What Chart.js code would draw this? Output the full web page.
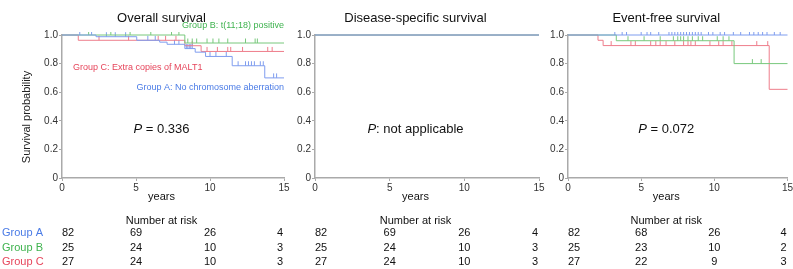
<!DOCTYPE html>
<html>
<head>
<meta charset="utf-8">
<script src="https://cdn.jsdelivr.net/npm/chart.js@4.4.1/dist/chart.umd.min.js"></script>
<style>
  html, body { margin: 0; padding: 0; background: #fff; }
  #wrap { position: relative; width: 793px; height: 269px; overflow: hidden; }
  canvas { position: absolute; top: 0; }
</style>
</head>
<body>
<div id="wrap">
  <canvas id="graficoOS" width="293" height="269" style="left:0px"></canvas>
  <canvas id="graficoDSS" width="253" height="269" style="left:293px"></canvas>
  <canvas id="graficoEFS" width="247" height="269" style="left:546px"></canvas>
</div>
<script>
// colunas da tabela "Number at risk" (anos)
const anosRisco = [0, 5, 10, 15];
const grupos = ['Group A', 'Group B', 'Group C'];
const corTexto = ['#4a7be6', '#3fb34f', '#e6455b'];
const corLinha = ['#7f9def', '#78c87c', '#ee7d8b'];

// Overall survival: tempo do evento / sobrevida depois do evento / censuras
const osTempoA = [2.3, 5.05, 6.6, 7.1, 8.3, 9.0, 9.7, 11.5, 13.7];
const osSobrevA = [0.988, 0.963, 0.95, 0.935, 0.905, 0.88, 0.85, 0.785, 0.70];
const osCensuraA = [1.2, 2.0, 3.0, 3.6, 4.3, 5.8, 6.3, 7.6, 7.9, 8.4, 8.5, 8.6, 8.7, 8.8, 10.0, 10.4, 11.1, 11.9, 12.4, 12.6, 12.8, 13.0, 13.4, 13.6, 14.3, 14.5];
const osTempoB = [8.3];
const osSobrevB = [0.944];
const osCensuraB = [1.8, 3.3, 4.6, 6.0, 7.4, 7.9, 8.5, 8.8, 9.1, 9.8, 10.2, 10.6, 11.2, 12.4, 13.05, 13.2];
const osTempoC = [1.1, 8.3, 9.4];
const osSobrevC = [0.963, 0.925, 0.885];
const osCensuraC = [2.5, 4.5, 6.5, 7.0, 7.7, 8.8, 9.8, 10.5, 11.2, 11.4, 12.2, 13.9, 14.2];
const riscoOS = [[82, 69, 26, 4], [25, 24, 10, 3], [27, 24, 10, 3]];

// Disease-specific survival: nenhum evento
const dssTempoA = [], dssSobrevA = [], dssCensuraA = [];
const dssTempoB = [], dssSobrevB = [], dssCensuraB = [];
const dssTempoC = [], dssSobrevC = [], dssCensuraC = [];
const riscoDSS = [[82, 69, 26, 4], [25, 24, 10, 3], [27, 24, 10, 3]];

// Event-free survival
const efsTempoA = [];
const efsSobrevA = [];
const efsCensuraA = [3.2, 3.7, 4.0, 5.0, 5.4, 5.65, 6.2, 6.9, 7.1, 7.3, 7.5, 7.7, 7.9, 8.1, 8.3, 8.5, 8.7, 8.9, 9.1, 9.6, 9.9, 10.4, 10.7, 11.3, 11.8, 12.4, 12.7, 13.0, 13.3, 13.6, 14.1, 14.5];
const efsTempoB = [3.3, 11.35];
const efsSobrevB = [0.96, 0.80];
const efsCensuraB = [4.1, 5.2, 6.3, 7.2, 7.5, 7.7, 7.9, 8.2, 8.5, 8.9, 9.2, 10.2, 10.6, 11.0, 12.6, 13.2];
const efsTempoC = [2.05, 2.4, 13.75];
const efsSobrevC = [0.963, 0.926, 0.62];
const efsCensuraC = [2.95, 4.3, 4.6, 5.65, 6.0, 6.3, 6.7, 7.3, 7.9, 8.2, 8.4, 8.7, 9.7, 10.3, 10.6, 11.2, 12.9, 13.65];
const riscoEFS = [[82, 68, 26, 4], [25, 23, 10, 2], [27, 22, 9, 3]];

const FONTE = '"Liberation Sans", Arial, sans-serif';
Chart.defaults.font.family = FONTE;
Chart.defaults.animation = false;
Chart.defaults.events = [];

function sobrevidaEm(tempos, sobrev, t) {
    var s = 1;
    for (var i = 0; i < tempos.length; i++) {
        if (tempos[i] <= t) s = sobrev[i];
    }
    return s;
}

function montarCurva(tempos, sobrev) {
    const pontos = [{ x: 0, y: 1 }];
    for (var i = 0; i < tempos.length; i++) {
        pontos.push({ x: tempos[i], y: sobrev[i] });
    }
    pontos.push({ x: 15, y: sobrev.length ? sobrev[sobrev.length - 1] : 1 });
    return pontos;
}

function montarCensura(tempos, sobrev, censuras) {
    return censuras.map((t) => ({ x: t, y: sobrevidaEm(tempos, sobrev, t) }));
}

function textoP(ctx, cx, y, resto) {
    ctx.font = 'italic 13px ' + FONTE;
    const wP = ctx.measureText('P').width;
    ctx.font = '13px ' + FONTE;
    const wR = ctx.measureText(resto).width;
    const x0 = cx - (wP + wR) / 2;
    ctx.textAlign = 'left';
    ctx.font = 'italic 13px ' + FONTE;
    ctx.fillText('P', x0, y);
    ctx.font = '13px ' + FONTE;
    ctx.fillText(resto, x0 + wP, y);
}

function pluginTextos(painel) {
    return {
        id: 'textos',
        afterDraw(chart) {
            const ctx = chart.ctx;
            const area = chart.chartArea;
            const escalaX = chart.scales.x;
            const cx = (area.left + area.right) / 2 - 11.5;
            ctx.save();
            ctx.textBaseline = 'middle';
            ctx.fillStyle = '#111';

            ctx.textAlign = 'center';
            ctx.font = '13px ' + FONTE;
            ctx.fillText(painel.titulo, cx, 18);

            textoP(ctx, cx, 129, painel.textoP);

            ctx.textAlign = 'center';
            ctx.font = '11px ' + FONTE;
            ctx.fillText('years', cx, 197);
            ctx.fillText('Number at risk', cx, 221);

            for (var i = 0; i < grupos.length; i++) {
                const y = 233.3 + i * 14.2;
                ctx.fillStyle = '#111';
                for (var j = 0; j < anosRisco.length; j++) {
                    const x = escalaX.getPixelForValue(anosRisco[j]);
                    ctx.textAlign = j === 0 ? 'left' : (j === anosRisco.length - 1 ? 'right' : 'center');
                    ctx.fillText(String(painel.risco[i][j]), j === anosRisco.length - 1 ? x - 1 : x, y);
                }
                if (painel.rotulos) {
                    ctx.fillStyle = corTexto[i];
                    ctx.textAlign = 'left';
                    ctx.fillText(grupos[i], 2, y);
                }
            }

            if (painel.rotulos) {
                ctx.save();
                ctx.fillStyle = '#222';
                ctx.translate(27, 117);
                ctx.rotate(-Math.PI / 2);
                ctx.textAlign = 'center';
                ctx.font = '11px ' + FONTE;
                ctx.fillText('Survival probability', 0, 0);
                ctx.restore();

                ctx.font = '9px ' + FONTE;
                ctx.textAlign = 'right';
                ctx.fillStyle = corTexto[1];
                ctx.fillText('Group B: t(11;18) positive', area.right, 26);
                ctx.fillStyle = corTexto[0];
                ctx.fillText('Group A: No chromosome aberration', area.right, 88);
                ctx.textAlign = 'left';
                ctx.fillStyle = corTexto[2];
                ctx.fillText('Group C: Extra copies of MALT1', 73, 68);
            }
            ctx.restore();
        }
    };
}

function criarGrafico(chartId, painel) {
    const datasets = [];
    for (var i = 0; i < 3; i++) {
        const c = painel.curvas[i];
        datasets.push({
            type: 'line',
            data: montarCurva(c[0], c[1]),
            stepped: true,
            borderColor: corLinha[i],
            borderWidth: 1,
            pointRadius: 0,
            fill: false,
            clip: 2
        });
    }
    for (var i = 0; i < 3; i++) {
        const c = painel.curvas[i];
        datasets.push({
            type: 'scatter',
            data: montarCensura(c[0], c[1], c[2]),
            showLine: false,
            pointStyle: 'dash',
            rotation: -90,
            pointRadius: 4.5,
            borderColor: corLinha[i],
            backgroundColor: corLinha[i],
            borderWidth: 1,
            clip: { left: 3, right: 3, top: 3, bottom: 3 }
        });
    }

    const config = {
        type: 'line',
        data: { datasets: datasets },
        options: {
            responsive: false,
            plugins: {
                legend: { display: false },
                tooltip: { enabled: false },
                title: { display: false }
            },
            layout: {
                padding: { left: 0, top: 35, right: painel.padDireita, bottom: 0 }
            },
            scales: {
                x: {
                    type: 'linear',
                    min: 0,
                    max: 15,
                    ticks: { stepSize: 5, color: '#333', font: { size: 10 }, padding: 1 },
                    grid: { drawOnChartArea: false, tickLength: 3, color: '#aaa' },
                    border: { color: '#aaa', width: 1.5 },
                    afterFit: (s) => { s.height = 91; s.paddingLeft = 0; s.paddingRight = 0; }
                },
                y: {
                    min: 0,
                    max: 1,
                    ticks: {
                        stepSize: 0.2,
                        color: '#333',
                        font: { size: 10 },
                        padding: 1,
                        callback: (value) => value === 0 ? '0' : Number(value).toFixed(1)
                    },
                    grid: { drawOnChartArea: false, tickLength: 3, color: '#aaa' },
                    border: { color: '#aaa', width: 1.5 },
                    afterFit: (s) => { s.width = painel.larguraY; s.paddingTop = 0; s.paddingBottom = 0; }
                }
            }
        },
        plugins: [pluginTextos(painel)]
    };

    return new Chart(document.getElementById(chartId), config);
}

criarGrafico('graficoOS', {
    titulo: 'Overall survival',
    textoP: ' = 0.336',
    risco: riscoOS,
    rotulos: true,
    larguraY: 62,
    padDireita: 9,
    curvas: [[osTempoA, osSobrevA, osCensuraA], [osTempoB, osSobrevB, osCensuraB], [osTempoC, osSobrevC, osCensuraC]]
});

criarGrafico('graficoDSS', {
    titulo: 'Disease-specific survival',
    textoP: ': not applicable',
    risco: riscoDSS,
    rotulos: false,
    larguraY: 22,
    padDireita: 7,
    curvas: [[dssTempoA, dssSobrevA, dssCensuraA], [dssTempoB, dssSobrevB, dssCensuraB], [dssTempoC, dssSobrevC, dssCensuraC]]
});

criarGrafico('graficoEFS', {
    titulo: 'Event-free survival',
    textoP: ' = 0.072',
    risco: riscoEFS,
    rotulos: false,
    larguraY: 22,
    padDireita: 4,
    curvas: [[efsTempoA, efsSobrevA, efsCensuraA], [efsTempoB, efsSobrevB, efsCensuraB], [efsTempoC, efsSobrevC, efsCensuraC]]
});
</script>
</body>
</html>
